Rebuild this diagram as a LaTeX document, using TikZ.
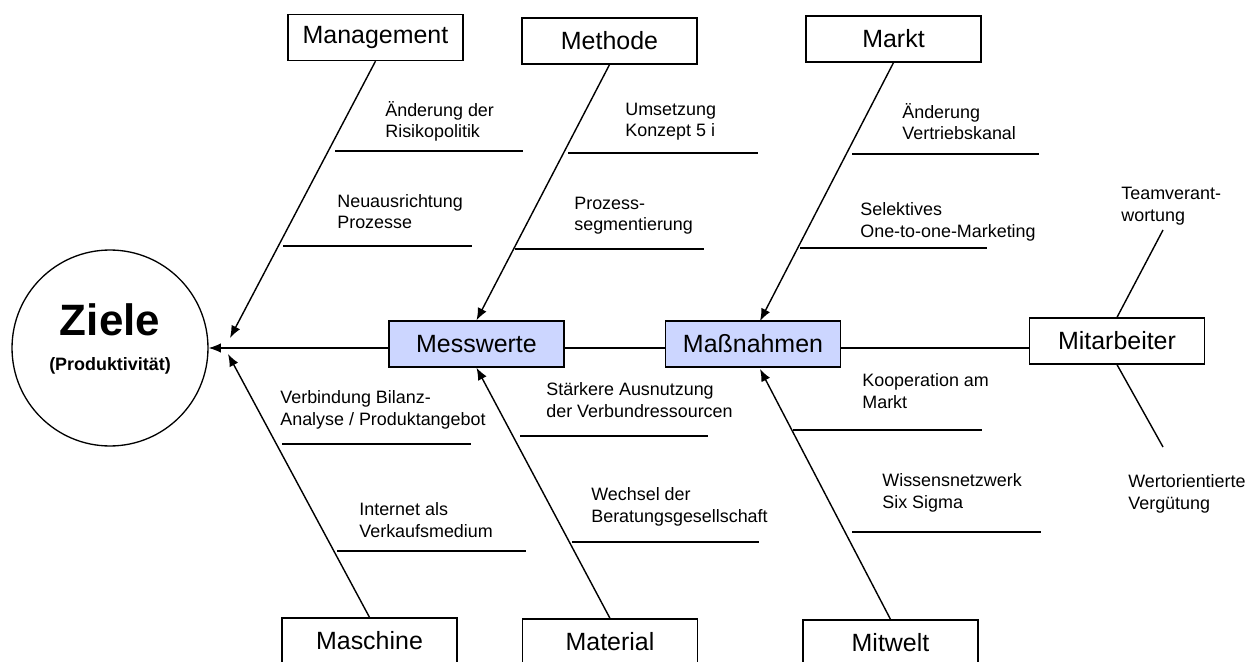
\documentclass[tikz,border=0pt]{standalone}
\usepackage{fontspec}
\setmainfont{Liberation Sans}
\usetikzlibrary{arrows.meta}
\definecolor{boxblue}{RGB}{204,214,255}
\begin{document}
\begin{tikzpicture}[x=0.02cm,y=-0.02cm,
  box/.style={draw,line width=0.75pt,minimum width=3.5cm,minimum height=0.92cm,inner sep=0pt,font=\fontsize{14.2}{17}\selectfont},
  keybox/.style={box,fill=boxblue},
  bone/.style={line width=0.8pt,-{Latex[length=7pt,width=5.5pt]}},
  plain/.style={line width=0.8pt},
  rib/.style={line width=0.75pt},
  lbl/.style={anchor=base west,inner sep=0pt,align=left,font=\fontsize{10.2}{12.4}\selectfont}]
\useasboundingbox (0,0) rectangle (1250,662);

% goal circle
\node[draw,circle,line width=0.75pt,minimum size=3.92cm,inner sep=0pt] (Ziele) at (110,348) {};
\node[anchor=base,inner sep=0pt,font=\fontsize{25}{30}\selectfont\bfseries] (zt) at (110,335) {Ziele};
\node[anchor=base,inner sep=0pt,font=\fontsize{10.2}{12}\selectfont\bfseries] (zp) at (110,370) {(Produktivität)};

% boxes
\node[box] (Management) at (375.5,37.5) {Management};
\node[box] (Methode) at (609.5,41) {Methode};
\node[box] (Markt) at (893.5,39) {Markt};
\node[keybox] (Messwerte) at (476.5,344) {Messwerte};
\node[keybox] (Massnahmen) at (753,344) {Maßnahmen};
\node[box] (Mitarbeiter) at (1117,341) {Mitarbeiter};
\node[box] (Maschine) at (369.5,641) {Maschine};
\node[box] (Material) at (610,642) {Material};
\node[box] (Mitwelt) at (890.5,643) {Mitwelt};

% spine
\draw[bone] (Messwerte.west |- Ziele.east) -- (Ziele.east);
\draw[plain] (Messwerte.east |- Ziele.east) -- (Massnahmen.west |- Ziele.east);
\draw[plain] (Massnahmen.east |- Ziele.east) -- (Mitarbeiter.west |- Ziele.east);

% bone tips
\coordinate (tipMan) at (230,338);
\coordinate (tipMas) at (228,354);
\coordinate (tipMkt) at (760,321);
\coordinate (tipMit) at (760,369);

% bones
\draw[bone] (Management.south) -- (tipMan);
\draw[bone] (Maschine.north) -- (tipMas);
\draw[bone] (Methode.south) -- (Messwerte.north);
\draw[bone] (Material.north) -- (Messwerte.south);
\draw[bone] (Markt.south) -- (tipMkt);
\draw[bone] (Mitwelt.north) -- (tipMit);

% Mitarbeiter branches
\coordinate (teamEnd) at (1163,230);
\coordinate (wertEnd) at (1163,447);
\draw[plain] (Mitarbeiter.north) -- (teamEnd);
\draw[plain] (Mitarbeiter.south) -- (wertEnd);

% ribs
\draw[rib] (335,151) -- (523,151);
\draw[rib] (283,246) -- (472,246);
\draw[rib] (568,153) -- (758,153);
\draw[rib] (515,249) -- (704,249);
\draw[rib] (852,154) -- (1039,154);
\draw[rib] (800,248) -- (987,248);
\draw[rib] (282,444) -- (471,444);
\draw[rib] (337,551) -- (526,551);
\draw[rib] (520,436) -- (708,436);
\draw[rib] (572,542) -- (759,542);
\draw[rib] (793,430) -- (982,430);
\draw[rib] (852,532) -- (1041,532);

% labels (anchor = baseline of the last line)
\node[lbl] (l1) at (385,138) {Änderung der\\Risikopolitik};
\node[lbl] (l2) at (337,229) {Neuausrichtung\\Prozesse};
\node[lbl] (l3) at (625,137) {Umsetzung\\Konzept 5 i};
\node[lbl] (l4) at (574,231) {Prozess-\\segmentierung};
\node[lbl] (l5) at (902,140) {Änderung\\Vertriebskanal};
\node[lbl] (l6) at (860,237) {Selektives\\One-to-one-Marketing};
\node[lbl] (l7) at (1121,221) {Teamverant-\\wortung};
\node[lbl] (l8) at (280,425) {Verbindung Bilanz-\\Analyse / Produktangebot};
\node[lbl] (l9) at (359,537) {Internet als\\Verkaufsmedium};
\node[lbl] (l10) at (546,417) {Stärkere Ausnutzung\\der Verbundressourcen};
\node[lbl] (l11) at (591,522) {Wechsel der\\Beratungsgesellschaft};
\node[lbl] (l12) at (862,408) {Kooperation am\\Markt};
\node[lbl] (l13) at (882,508) {Wissensnetzwerk\\Six Sigma};
\node[lbl] (l14) at (1128,509) {Wertorientierte\\Vergütung};
\end{tikzpicture}
\end{document}
